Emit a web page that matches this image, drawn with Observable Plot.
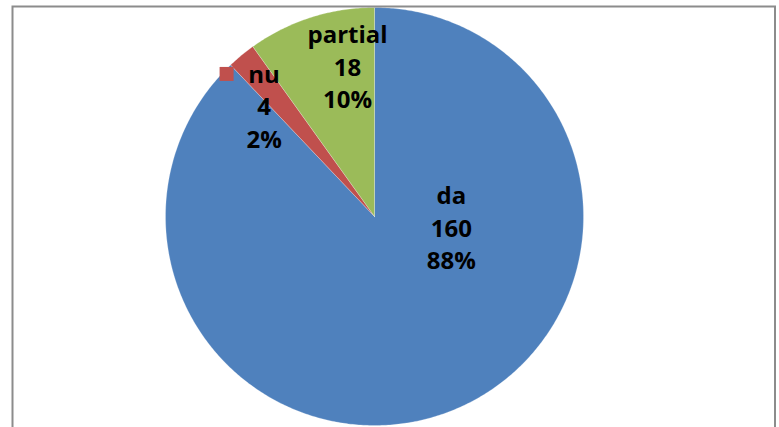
<!DOCTYPE html>
<html>
<head>
<meta charset="utf-8">
<script src="https://cdn.jsdelivr.net/npm/d3@7"></script>
<script src="https://cdn.jsdelivr.net/npm/@observablehq/plot@0.6"></script>
<style>
  html, body { margin: 0; padding: 0; background: #fff; }
  #chart svg { display: block; }
</style>
</head>
<body>
<div id="chart"></div>
<script>
// ---- data ----
const categories = ["da", "nu", "partial"];
const values = [160, 4, 18];
const percentLabels = ["88%", "2%", "10%"];
const colors = ["#4F81BD", "#C0504D", "#9BBB59"];

// ---- layout (pixel geometry of the pie) ----
const W = 779, H = 427;
const R = 209;            // radius in px
const CX = 374, CY = 216; // center in px

// label placement (Excel "best fit"): angle in degrees clockwise from north, radius fraction
const labelPlacement = {
  da: {angle: 97.4, r: 0.371},
  nu: {angle: 315.3, r: 0.751},
  partial: {angle: 349.9, r: 0.735}
};

const rows = categories.map((c, i) => ({category: c, value: values[i], pct: percentLabels[i], color: colors[i]}));
const arcs = d3.pie().sort(null).value(d => d.value)(rows);

// polygon points for each slice
const pts = [];
for (const a of arcs) {
  const n = Math.max(2, Math.ceil((a.endAngle - a.startAngle) / 0.01));
  pts.push({category: a.data.category, x: 0, y: 0});
  for (let k = 0; k <= n; k++) {
    const t = a.startAngle + (a.endAngle - a.startAngle) * k / n;
    pts.push({category: a.data.category, x: R * Math.sin(t), y: R * Math.cos(t)});
  }
  pts.push({category: a.data.category, x: 0, y: 0});
}

const labels = arcs.map(a => {
  const p = labelPlacement[a.data.category];
  const t = p.angle * Math.PI / 180;
  return {
    category: a.data.category,
    x: p.r * R * Math.sin(t),
    y: p.r * R * Math.cos(t),
    text: `${a.data.category}\n${a.data.value}\n${a.data.pct}`
  };
});

const nuLabel = labels.filter(d => d.category === "nu");

const chart = Plot.plot({
  width: W,
  height: H,
  margin: 0,
  x: {domain: [-CX, W - CX], range: [0, W], axis: null},
  y: {domain: [-(H - CY), CY], range: [H, 0], axis: null},
  color: {domain: categories, range: colors},
  style: {background: "#fff"},
  marks: [
    Plot.line(pts, {x: "x", y: "y", z: "category", fill: "category", stroke: "#ffffff", strokeWidth: 0.4, strokeOpacity: 0.6, curve: "linear-closed"}),
    Plot.text(labels, {
      x: "x", y: "y", text: "text",
      fontFamily: "'Open Sans', sans-serif",
      fontWeight: "bold",
      fontSize: 24,
      lineHeight: 1.35,
      fill: "#000"
    }),
    Plot.dot(nuLabel, {x: "x", y: "y", dx: -37.5, dy: -31, symbol: "square", r: 7.9, fill: colors[1], stroke: "none"}),
    Plot.frame({stroke: "#8c8c8c", strokeWidth: 2, insetLeft: 12, insetTop: 6, insetRight: 4.5, insetBottom: -10})
  ]
});

document.getElementById("chart").appendChild(chart);
</script>
</body>
</html>
